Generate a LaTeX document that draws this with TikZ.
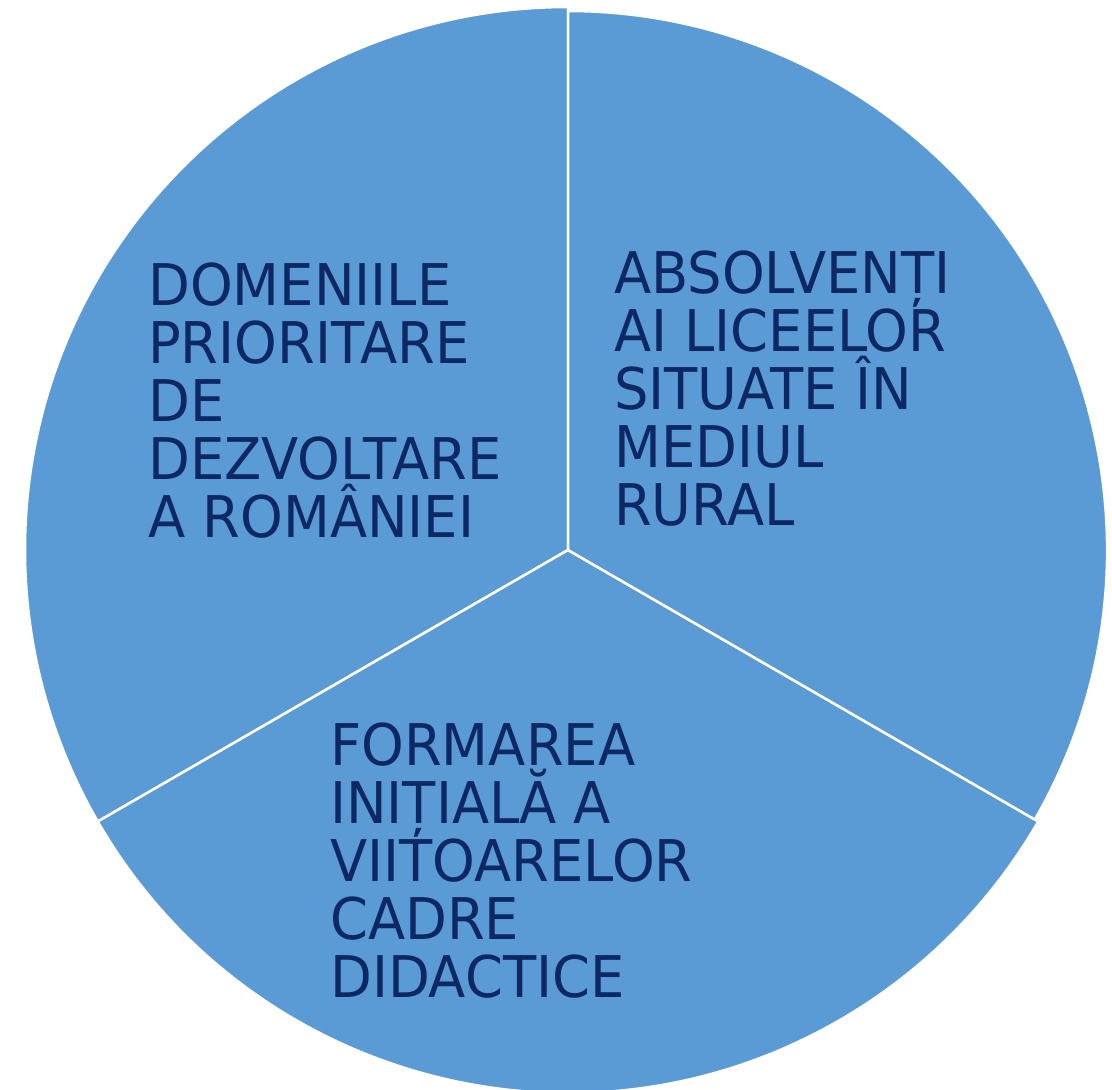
\documentclass[tikz,border=0pt]{standalone}
\usepackage{fontspec}
\setmainfont[FakeStretch=0.945]{DejaVu Sans}
\definecolor{slicefill}{HTML}{5B9BD5}
\definecolor{slicetext}{HTML}{0D2862}
\tikzset{
  slice/.style={fill=slicefill, draw=white, line width=2.5pt, line join=miter},
  slicelabel/.style={anchor=north west, inner sep=0pt, align=left, text=slicetext,
    font=\fontsize{57.5}{58}\selectfont}
}
\begin{document}
\begin{tikzpicture}[x=1pt,y=1pt]
\useasboundingbox (0,0) rectangle (1112,-1090);
\coordinate (c) at (568,-550);
% slices
\path[slice] (c) -- ++(90:543) arc[start angle=90, end angle=210, radius=543] -- cycle;
\path[slice] (c) -- ++(210:543) arc[start angle=210, end angle=330, radius=543] -- cycle;
\path[slice] (c) -- ++(-30:539) arc[start angle=-30, end angle=90, radius=539] -- cycle;
% labels
\node[slicelabel] (left) at (148,-263) {DOMENIILE\\PRIORITARE\\DE\\DEZVOLTARE\\A ROMÂNIEI};
\node[slicelabel] (right) at (614,-251) {ABSOLVENȚI\\AI LICEELOR\\SITUATE ÎN\\MEDIUL\\RURAL};
\node[slicelabel] (bottom) at (330,-723) {FORMAREA\\INIȚIALĂ A\\VIITOARELOR\\CADRE\\DIDACTICE};
\end{tikzpicture}
\end{document}
